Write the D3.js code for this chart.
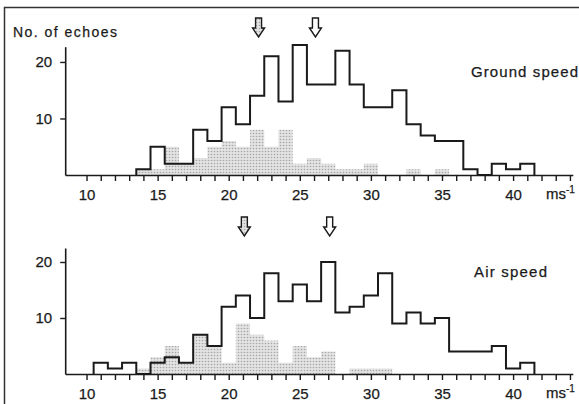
<!DOCTYPE html>
<html>
<head>
<meta charset="utf-8">
<script src="https://cdn.jsdelivr.net/npm/d3@7"></script>
<style>
  body { margin: 0; background: #fff; }
  svg { display: block; }
  text { font-family: "Liberation Sans", Arial, Helvetica, sans-serif; fill: #1a1a1a;
         stroke: #1a1a1a; stroke-width: 0.25px; }
</style>
</head>
<body>
<div class="chart"></div>
<script>
// speed classes, 1 m/s wide, centred on whole numbers
const speedBins = [11, 12, 13, 14, 15, 16, 17, 18, 19, 20, 21, 22, 23, 24, 25, 26,
  27, 28, 29, 30, 31, 32, 33, 34, 35, 36, 37, 38, 39, 40, 41]

// ground speed, all echoes (outline) and stippled subset
const groundAll = [0, 0, 0, 1, 5, 2, 2, 8, 6, 12, 9, 14, 21, 13, 23, 16,
  16, 22, 16, 12, 12, 15, 9, 7, 6, 6, 1, 0, 2, 1, 2]
const groundShaded = [0, 0, 0, 1, 1, 5, 2, 3, 5, 6, 5, 8, 5, 8, 2, 3,
  2, 1, 1, 2, 0, 0, 1, 0, 1, 0, 0, 0, 0, 0, 0]

// air speed, all echoes (outline) and stippled subset
const airAll = [2, 1, 2, 0, 2, 3, 2, 7, 5, 12, 14, 10, 18, 13, 16, 13,
  20, 11, 12, 14, 18, 9, 11, 9, 10, 4, 4, 4, 5, 1, 2]
const airShaded = [0, 0, 0, 1, 3, 5, 2, 7, 5, 2, 9, 7, 6, 2, 5, 3,
  4, 0, 1, 1, 1, 0, 0, 0, 0, 0, 0, 0, 0, 0, 0]

// mean markers (stippled arrow, open arrow)
const groundMeans = [22.1, 26.1]
const airMeans = [21.1, 27.1]

const xTicks = [10, 11, 12, 13, 14, 15, 16, 17, 18, 19, 20, 21, 22, 23, 24, 25, 26, 27,
  28, 29, 30, 31, 32, 33, 34, 35, 36, 37, 38, 39, 40, 41, 42, 43, 44]
const yTicks = [10, 20]

const width = 579
const height = 404

const svg = d3.select('.chart')
  .append('svg')
  .attr('width', width)
  .attr('height', height)

// stipple pattern for the shaded bars
const pat = svg.append('defs')
  .append('pattern')
  .attr('id', 'stipple')
  .attr('patternUnits', 'userSpaceOnUse')
  .attr('width', 3)
  .attr('height', 3)
pat.append('rect').attr('width', 3).attr('height', 3).attr('fill', '#e3e3e3')
pat.append('circle').attr('cx', 1.5).attr('cy', 1.5).attr('r', 0.8).attr('fill', '#a6a6a6')

// frame
svg.append('path')
  .attr('d', 'M4.5,404V7.5H579')
  .attr('fill', 'none')
  .attr('stroke', '#333')
  .attr('stroke-width', 1.5)

const x = d3.scaleLinear().domain([8.5, 44.2]).range([65.2, 572.8])

const panels = [
  { all: groundAll, shaded: groundShaded, means: groundMeans, label: 'Ground speed',
    y: d3.scaleLinear().domain([0, 22.7]).range([175, 46.7]),
    labelPos: [471, 77], labelLen: 107, arrowTop: 18 },
  { all: airAll, shaded: airShaded, means: airMeans, label: 'Air speed',
    y: d3.scaleLinear().domain([0, 22.5]).range([374, 248]),
    labelPos: [474, 277], labelLen: 73, arrowTop: 217 }
]

const trim = (vals) => {
  let a = vals.findIndex((v) => v > 0)
  let b = vals.length - 1
  while (b > a && vals[b] === 0) b--
  return [a, b]
}

panels.forEach((p) => {
  const g = svg.append('g')
  const base = p.y(0)

  // stippled histogram
  const [sa, sb] = trim(p.shaded)
  const sPts = speedBins.slice(sa, sb + 1).map((b, i) => [b - 0.5, p.shaded[sa + i]])
  sPts.push([speedBins[sb] + 0.5, p.shaded[sb]])
  g.append('path')
    .attr('d', d3.area()
      .curve(d3.curveStepAfter)
      .x((d) => x(d[0]))
      .y0(base)
      .y1((d) => p.y(d[1]))(sPts))
    .attr('fill', 'url(#stipple)')

  // outline histogram
  const [la, lb] = trim(p.all)
  const lPts = [[speedBins[la] - 0.5, 0]]
    .concat(speedBins.slice(la, lb + 1).map((b, i) => [b - 0.5, p.all[la + i]]))
  lPts.push([speedBins[lb] + 0.5, p.all[lb]])
  lPts.push([speedBins[lb] + 0.5, 0])
  g.append('path')
    .attr('d', d3.line()
      .curve(d3.curveStepAfter)
      .x((d) => x(d[0]))
      .y((d) => p.y(d[1]))(lPts))
    .attr('fill', 'none')
    .attr('stroke', '#1a1a1a')
    .attr('stroke-width', 2)

  // axes
  const xAxis = g.append('g')
    .attr('transform', `translate(0,${base})`)
    .call(d3.axisBottom(x)
      .tickValues(xTicks)
      .tickSize(6)
      .tickSizeOuter(0)
      .tickPadding(8)
      .tickFormat((d) => (d % 5 === 0 && d <= 40 ? d : '')))
  xAxis.select('.domain').attr('stroke', '#1a1a1a').attr('stroke-width', 1.6)
  xAxis.selectAll('.tick line').attr('stroke', '#1a1a1a').attr('stroke-width', 1.4)
  xAxis.selectAll('.tick text').attr('font-size', 15).attr('fill', '#1a1a1a')

  const yAxis = g.append('g')
    .attr('transform', `translate(${x(8.5)},0)`)
    .call(d3.axisLeft(p.y)
      .tickValues(yTicks)
      .tickSize(5)
      .tickSizeOuter(0)
      .tickPadding(8))
  yAxis.select('.domain').attr('stroke', '#1a1a1a').attr('stroke-width', 1.6)
  yAxis.selectAll('.tick line').attr('stroke', '#1a1a1a').attr('stroke-width', 1.4)
  yAxis.selectAll('.tick text').attr('font-size', 15).attr('fill', '#1a1a1a')

  // unit
  const unit = g.append('text')
    .attr('x', 546)
    .attr('y', base + 24)
    .attr('font-size', 15)
  unit.append('tspan').text('ms')
  unit.append('tspan').attr('font-size', 10).attr('dy', -6).text('-1')

  // panel label
  g.append('text')
    .attr('x', p.labelPos[0])
    .attr('y', p.labelPos[1])
    .attr('font-size', 15)
    .attr('textLength', p.labelLen)
    .attr('lengthAdjust', 'spacing')
    .text(p.label)

  // mean arrows
  p.means.forEach((m, i) => {
    const cx = x(m)
    const t = p.arrowTop
    const d = `M${cx - 3},${t}H${cx + 3}V${t + 10}H${cx + 6}L${cx},${t + 19}L${cx - 6},${t + 10}H${cx - 3}Z`
    g.append('path')
      .attr('d', d)
      .attr('fill', i === 0 ? 'url(#stipple)' : '#fff')
      .attr('stroke', '#1a1a1a')
      .attr('stroke-width', 1.4)
      .attr('stroke-linejoin', 'miter')
  })
})

svg.append('text')
  .attr('x', 13)
  .attr('y', 37)
  .attr('font-size', 14)
  .attr('textLength', 104)
  .attr('lengthAdjust', 'spacing')
  .text('No. of echoes')
</script>
</body>
</html>
